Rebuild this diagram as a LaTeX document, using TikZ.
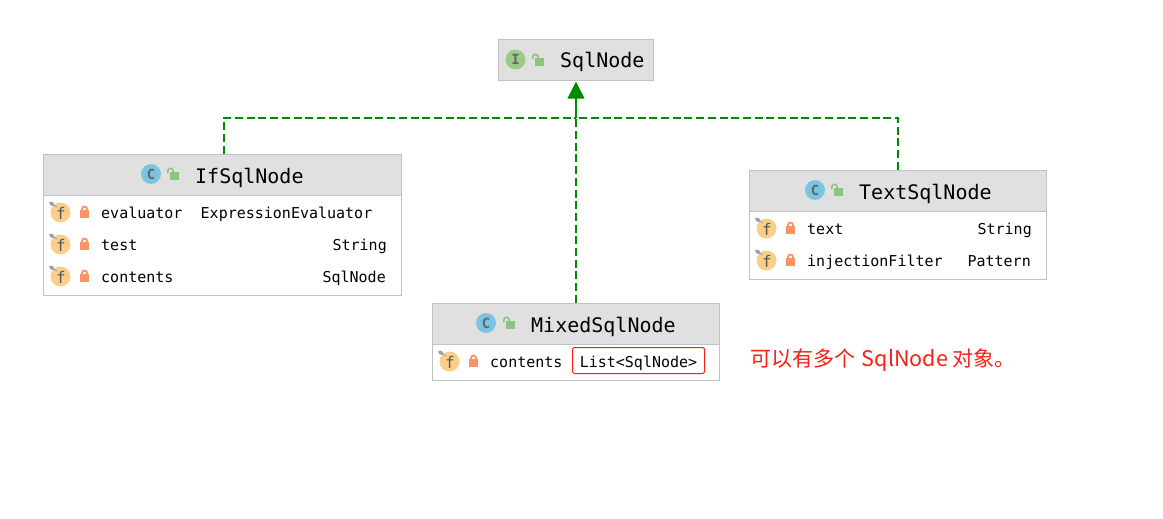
\documentclass[tikz,border=0pt]{standalone}
\usepackage{fontspec}
\setmonofont{DejaVu Sans Mono}
\newfontfamily\cjk{Noto Sans CJK SC}
\usetikzlibrary{arrows.meta,positioning}

\tikzset{
  classbox/.style = {draw=boxgray, line width=1.4pt, fill=white, inner sep=0pt},
  headbox/.style = {draw=boxgray, line width=1.4pt, fill=headgray, inner sep=0pt},
  title/.style = {anchor=base west, inner sep=0pt, font=\fontsize{20}{20}\selectfont\ttfamily},
  member/.style = {anchor=base west, inner sep=0pt, font=\fontsize{15}{15}\selectfont\ttfamily},
  membertype/.style = {member, anchor=base east},
  badge/.style = {circle, minimum size=20pt, inner sep=0pt, text=black!60,
                  font=\fontsize{14}{14}\selectfont\ttfamily\bfseries},
  dep/.style = {draw=depgreen, line width=1.4pt, dash pattern=on 8pt off 3.7pt},
  lockopen/.pic = {
    \draw[lockgreen, line width=1.6pt] (-5.2,-1) -- (-5.2,-3) arc (-180:0:2.7 and 2.7) -- (0.2,-1.7);
    \fill[lockgreen] (-2.7,-1.7) rectangle (6.3,5.7);
  },
  lockshut/.pic = {
    \draw[lockorange, line width=1.8pt] (-2.4,-2) -- (-2.4,-3.6) arc (-180:0:2.4 and 2.4) -- (2.4,-2);
    \fill[lockorange] (-4.6,-2.5) rectangle (4.6,5.8);
  },
  fieldmark/.pic = {
    \fill[fieldorange] (0,0) circle (10);
    \draw[pingray, line width=3.5pt, line cap=round] (-9.8,-9.5) -- (-7.5,-8);
    \draw[pingray, line width=0.8pt] (-7.5,-8) -- (-3.5,-5.5);
    \node[inner sep=0pt, text=black!65, font=\fontsize{16}{16}\selectfont\ttfamily] at (0.5,1) {f};
  }
}
\definecolor{boxgray}{HTML}{C2C2C2}
\definecolor{headgray}{HTML}{E0E0E0}
\definecolor{depgreen}{HTML}{008A00}
\definecolor{lockgreen}{HTML}{8CC57F}
\definecolor{lockorange}{HTML}{FA9468}
\definecolor{fieldorange}{HTML}{F9CF8A}
\definecolor{pingray}{HTML}{98A3AE}
\definecolor{classblue}{HTML}{7CC5E2}
\definecolor{ifacegreen}{HTML}{9CCB86}
\definecolor{notered}{HTML}{FA1E14}

\begin{document}
\begin{tikzpicture}[x=1pt, y=-1pt]
  \useasboundingbox (0,0) rectangle (1163,519);

  % top interface
  \node[headbox, minimum width=155pt, minimum height=41pt] (sqlnode) at (576,60) {};
  \node[badge, fill=ifacegreen] (sqlbadge) at (515.5,59.5) {I};
  \pic at (538,60) {lockopen};
  \node[title] (sqltitle) at (560,68) {SqlNode};

  % IfSqlNode
  \node[classbox, minimum width=358pt, minimum height=141pt] (ifbox) at (222.5,225) {};
  \node[headbox, minimum width=358pt, minimum height=41pt] (ifhead) at (222.5,175) {};
  \node[badge, fill=classblue] (ifbadge) at (151,174) {C};
  \pic at (173,174) {lockopen};
  \node[title] (iftitle) at (195,183) {IfSqlNode};
  \pic at (60.5,212.5) {fieldmark};
  \pic at (84.5,212.5) {lockshut};
  \node[member] (ifeval) at (101,218) {evaluator};
  \node[membertype] (ifevaltype) at (372.5,218) {ExpressionEvaluator};
  \pic at (60.5,244.5) {fieldmark};
  \pic at (84.5,244.5) {lockshut};
  \node[member] (iftest) at (101,250) {test};
  \node[membertype] (iftesttype) at (387,250) {String};
  \pic at (60.5,276.5) {fieldmark};
  \pic at (84.5,276.5) {lockshut};
  \node[member] (ifcont) at (101,282) {contents};
  \node[membertype] (ifconttype) at (386,282) {SqlNode};

  % TextSqlNode
  \node[classbox, minimum width=297pt, minimum height=109pt] (textbox) at (898,225) {};
  \node[headbox, minimum width=297pt, minimum height=41pt] (texthead) at (898,191) {};
  \node[badge, fill=classblue] (textbadge) at (815,190) {C};
  \pic at (837,190) {lockopen};
  \node[title] (texttitle) at (859,199) {TextSqlNode};
  \pic at (766.5,228.5) {fieldmark};
  \pic at (790.5,228.5) {lockshut};
  \node[member] (textval) at (807,234) {text};
  \node[membertype] (textvaltype) at (1032,234) {String};
  \pic at (766.5,260.5) {fieldmark};
  \pic at (790.5,260.5) {lockshut};
  \node[member] (textfilter) at (807,266) {injectionFilter};
  \node[membertype] (textfiltertype) at (1031,266) {Pattern};

  % MixedSqlNode
  \node[classbox, minimum width=287pt, minimum height=77pt] (mixedbox) at (576,342) {};
  \node[headbox, minimum width=287pt, minimum height=41pt] (mixedhead) at (576,324) {};
  \node[badge, fill=classblue] (mixedbadge) at (486,323) {C};
  \pic at (509,323) {lockopen};
  \node[title] (mixedtitle) at (531,332) {MixedSqlNode};
  \pic at (449.5,361.5) {fieldmark};
  \pic at (473.5,361.5) {lockshut};
  \node[member] (mixedcont) at (490,367) {contents};
  \node[draw=notered, line width=1pt, rounded corners=1.5pt, minimum width=132pt,
        minimum height=26pt, inner sep=0pt, text height=14pt, text depth=1pt,
        font=\fontsize{15}{15}\selectfont\ttfamily]
        (mixedtype) at (638.5,360.5) {List<SqlNode>};

  \node[anchor=base west, inner sep=0pt, text=notered, font=\cjk\fontsize{21}{21}\selectfont]
        (note) at (750,366) {可以有多个 \hspace{2pt}{\fontsize{21.5}{21}\selectfont SqlNode} 对象。};

  % dependency edges
  \coordinate (join) at (576,118);
  \draw[dep] ([xshift=1.5pt]ifhead.north) |- (join);
  \draw[dep] (texthead.north) |- (join);
  \draw[dep] (mixedhead.north) -- (join);
  \draw[draw=depgreen, line width=1.4pt, -{Triangle[length=17pt,width=17pt,fill=depgreen]}]
        (join) -- ([yshift=-0.5pt]sqlnode.south);
\end{tikzpicture}
\end{document}
